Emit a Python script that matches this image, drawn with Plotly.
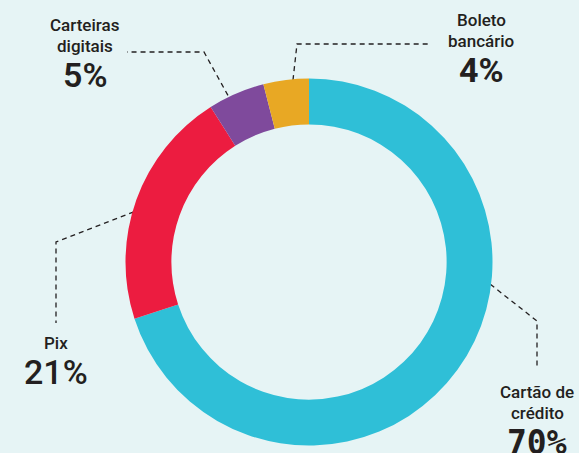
import plotly.graph_objects as go

W, H = 579, 453

# data
labels = ["Cartão de crédito", "Pix", "Carteiras digitais", "Boleto bancário"]
values = [70, 21, 5, 4]
colors = ["#2fbfd7", "#ec1c40", "#7f4a9c", "#e8a824"]
label_lines = [["Cartão de", "crédito"], ["Pix"], ["Carteiras", "digitais"], ["Boleto", "bancário"]]

# layout (pixels, y down)
cx, cy, r_out = 309, 262, 183.5
hole = 0.75
# leader path per slice: dot -> corner -> end
leaders = [
    [(462, 262), (537, 321), (537, 369)],
    [(159, 202), (56, 242), (56, 323)],
    [(241, 119), (204, 52), (127, 52)],
    [(291, 98), (297, 44), (431, 44)],
]
# label block: x centre, y centre of first line, pct y centre
label_pos = [(537, 392, 442), (56, 343, 372), (85, 25, 75), (481, 20, 70)]
pct_font = [
    dict(family="DejaVu Sans Mono", size=33, weight="bold"),
    dict(family="Roboto", size=34, weight=500),
    dict(family="Roboto", size=34, weight=600),
    dict(family="Roboto", size=34, weight="bold"),
]
ink = "#231f20"
bg = "#e6f4f5"

fig = go.Figure()
fig.add_trace(go.Pie(
    labels=labels, values=values, hole=hole, sort=False,
    direction="clockwise", rotation=0,
    marker=dict(colors=colors, line=dict(width=0)),
    textinfo="none", hoverinfo="label+percent", showlegend=False,
    domain=dict(x=[(cx - r_out) / W, (cx + r_out) / W],
                y=[(H - cy - r_out) / H, (H - cy + r_out) / H]),
))

for pts in leaders:
    fig.add_trace(go.Scatter(
        x=[p[0] for p in pts], y=[p[1] for p in pts], mode="lines",
        line=dict(color=ink, width=1.3, dash="5px,4px"),
        hoverinfo="skip", showlegend=False,
    ))
    fig.add_trace(go.Scatter(
        x=[pts[0][0]], y=[pts[0][1]], mode="markers",
        marker=dict(color=ink, size=6), hoverinfo="skip", showlegend=False,
    ))

for lines, v, (lx, ly, py), pf in zip(label_lines, values, label_pos, pct_font):
    for i, t in enumerate(lines):
        fig.add_annotation(x=lx, y=ly + 21 * i, text=t, showarrow=False,
                           xanchor="center", yanchor="middle",
                           font=dict(family="Roboto", size=17, color=ink, weight=500))
    fig.add_annotation(x=lx, y=py, text=f"{v}%", showarrow=False,
                       xanchor="center", yanchor="middle",
                       font=dict(color=ink, **pf))

fig.update_layout(
    width=W, height=H, margin=dict(l=0, r=0, t=0, b=0),
    paper_bgcolor=bg, plot_bgcolor="rgba(0,0,0,0)",
    xaxis=dict(range=[0, W], visible=False, fixedrange=True, domain=[0, 1]),
    yaxis=dict(range=[H, 0], visible=False, fixedrange=True, domain=[0, 1]),
)

fig.write_html("out.html", config={"displayModeBar": False},
               post_script="document.body.style.margin='0';")
